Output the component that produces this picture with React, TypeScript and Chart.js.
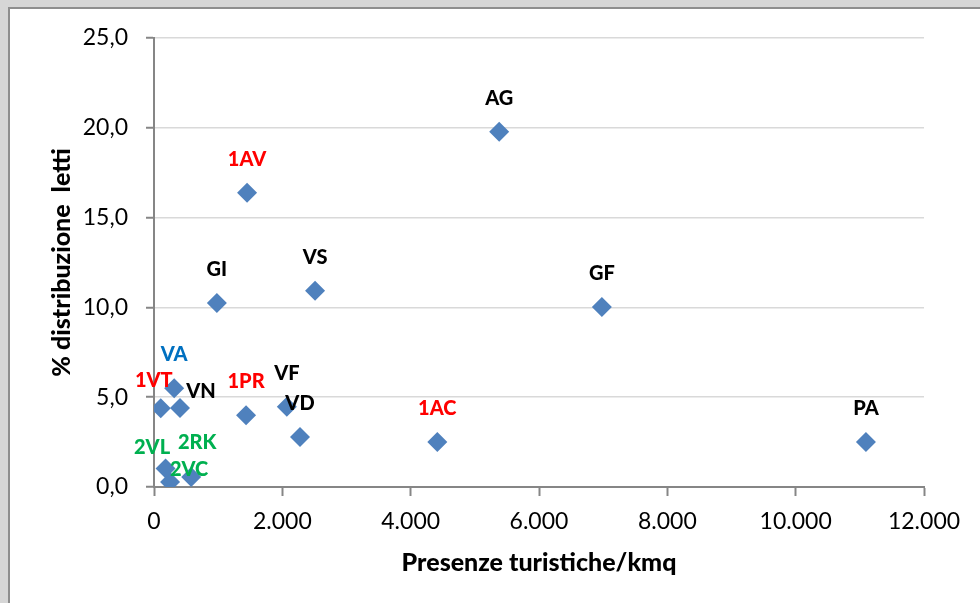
import { useEffect, useRef } from 'react';
import { Chart, registerables } from 'chart.js';

Chart.register(...registerables);

// ---- data ----
const pointLabels = ['AG', '1AV', 'GI', 'VS', 'GF', 'VA', '1VT', 'VN', '1PR', 'VF', 'VD', '1AC', 'PA', '2VL', '2RK', '2VC'];
const presenzeKmq = [5380, 1450, 980, 2510, 6980, 315, 105, 405, 1435, 2070, 2275, 4415, 11095, 250, 580, 180];
const distribuzioneLetti = [19.78, 16.39, 10.25, 10.93, 10.02, 5.5, 4.38, 4.4, 4.0, 4.47, 2.79, 2.5, 2.5, 0.28, 0.56, 1.03];
const xTickLabels = ['0', '2.000', '4.000', '6.000', '8.000', '10.000', '12.000'];
const yTickLabels = ['0,0', '5,0', '10,0', '15,0', '20,0', '25,0'];

// ---- styles ----
const RED = '#FF0000';
const BLUE = '#0070C0';
const GREEN = '#00B050';
const labelColor: Record<string, string> = {
  '1AV': RED, '1VT': RED, '1PR': RED, '1AC': RED,
  VA: BLUE,
  '2VL': GREEN, '2RK': GREEN, '2VC': GREEN,
};
const labelOffset: Record<string, [number, number]> = {
  '1VT': [-7, -21],
  VN: [21, -10],
  '2VL': [-18, -28],
  '2RK': [6, -28],
  '2VC': [23.5, 7],
};
const DEFAULT_OFFSET: [number, number] = [0, -27];
const FONT = 'Lato, "Open Sans", sans-serif';

const backgroundPlugin = {
  id: 'pageBackground',
  beforeDraw(chart: any) {
    const { ctx, width, height } = chart;
    ctx.save();
    ctx.fillStyle = '#D6D6D6';
    ctx.fillRect(0, 0, width, height);
    ctx.fillStyle = '#FFFFFF';
    ctx.fillRect(9, 8, width - 9, height - 8);
    ctx.strokeStyle = '#8E8E8E';
    ctx.lineWidth = 2;
    ctx.beginPath();
    ctx.moveTo(9, height);
    ctx.lineTo(9, 8);
    ctx.lineTo(width, 8);
    ctx.stroke();
    ctx.restore();
  },
};

const labelPlugin = {
  id: 'pointLabels',
  afterDatasetsDraw(chart: any) {
    const { ctx } = chart;
    const meta = chart.getDatasetMeta(0);
    ctx.save();
    ctx.font = `900 20px ${FONT}`;
    ctx.textAlign = 'center';
    ctx.textBaseline = 'alphabetic';
    meta.data.forEach((el: any, i: number) => {
      const name = pointLabels[i];
      const [dx, dy] = labelOffset[name] || DEFAULT_OFFSET;
      ctx.fillStyle = labelColor[name] || '#000000';
      ctx.fillText(name, el.x + dx, el.y + dy);
    });
    ctx.restore();
  },
};

export default function App() {
  const ref = useRef<HTMLCanvasElement>(null);

  useEffect(() => {
    if (!ref.current) return;
    const chart = new Chart(ref.current, {
      type: 'scatter',
      data: {
        datasets: [
          {
            data: presenzeKmq.map((x, i) => ({ x, y: distribuzioneLetti[i] })),
            backgroundColor: '#4F81BD',
            borderColor: '#4F81BD',
            borderWidth: 0,
            pointStyle: 'rectRot',
            pointRadius: 10,
          },
        ],
      },
      options: {
        animation: false,
        responsive: false,
        maintainAspectRatio: false,
        layout: { padding: { top: 38, right: 56, bottom: 0, left: 0 } },
        plugins: { legend: { display: false }, tooltip: { enabled: false } },
        scales: {
          x: {
            type: 'linear',
            min: 0,
            max: 12000,
            afterFit: (s: any) => { s.height = 116; },
            ticks: {
              stepSize: 2000,
              padding: 12,
              color: '#000000',
              font: { family: FONT, size: 23 },
              callback: (_v: any, i: number) => xTickLabels[i],
            },
            grid: { drawOnChartArea: false, drawTicks: true, tickLength: 9, tickColor: '#868686', tickWidth: 2 },
            border: { color: '#868686', width: 2 },
            title: {
              display: true,
              text: 'Presenze turistiche/kmq',
              color: '#000000',
              font: { family: FONT, size: 25, weight: '900' },
              padding: { top: 0, bottom: 25 },
            },
          },
          y: {
            type: 'linear',
            min: 0,
            max: 25,
            afterFit: (s: any) => { s.width = 154; },
            ticks: {
              stepSize: 5,
              padding: 18,
              color: '#000000',
              font: { family: FONT, size: 23 },
              callback: (_v: any, i: number) => yTickLabels[i],
            },
            grid: { color: '#D9D9D9', lineWidth: 1.5, drawTicks: true, tickLength: 8, tickColor: '#868686', tickWidth: 2 },
            border: { color: '#868686', width: 2 },
            title: {
              display: true,
              text: '% distribuzione  letti',
              color: '#000000',
              font: { family: FONT, size: 25, weight: '900' },
              padding: { top: 47, bottom: 0 },
            },
          },
        },
      },
      plugins: [backgroundPlugin, labelPlugin],
    });
    return () => chart.destroy();
  }, []);

  return (
    <div style={{ position: 'fixed', left: 0, top: 0, width: 980, height: 603 }}>
      <canvas ref={ref} width={980} height={603} style={{ display: 'block', width: 980, height: 603 }} />
    </div>
  );
}
